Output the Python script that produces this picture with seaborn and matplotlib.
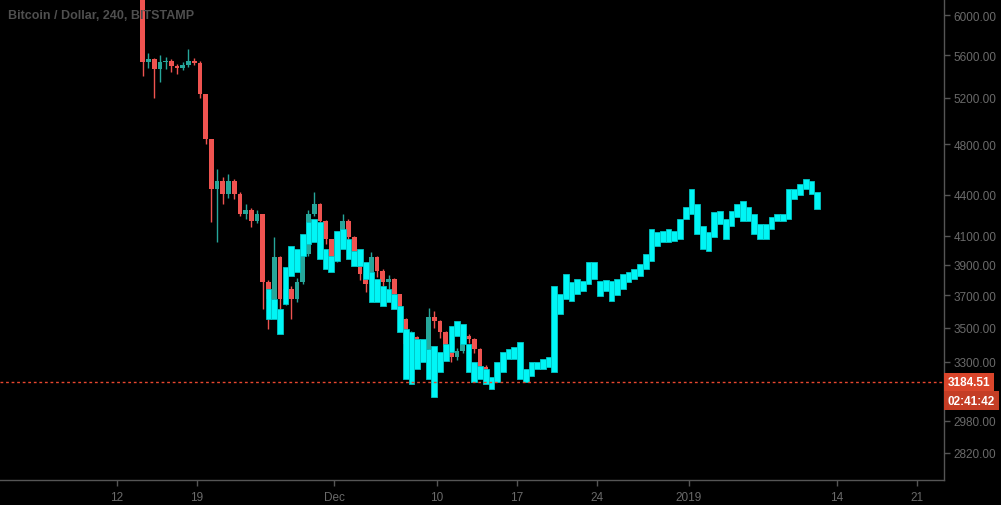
import matplotlib
matplotlib.use("Agg")
import matplotlib.pyplot as plt
import matplotlib.transforms as mtransforms
import numpy as np
import seaborn as sns

# ---- data ----
# x values are days counted from Nov 12 2018
candle_start = 2.25
candle_step = 0.5
first_open = 6300
candle_close = [5533, 5561, 5467, 5533, 5543, 5495, 5477, 5504, 5543, 5524,
                5236, 4845, 4445, 4507, 4407, 4507, 4407, 4260, 4290, 4207,
                4258, 3787, 3677, 3953, 3677, 3741, 3677, 3787, 3974, 4258,
                4331, 4207, 4077, 3926, 4106, 4207, 4092, 3953, 3839, 3773,
                3953, 3859, 3787, 3806, 3709, 3553, 3403, 3444, 3385, 3373,
                3565, 3540, 3473, 3385, 3327, 3362, 3450, 3432, 3373, 3270,
                3215]
candle_high = [6300, 5620, 5570, 5600, 5580, 5560, 5510, 5530, 5660, 5570,
               5540, 5240, 4845, 4600, 4540, 4560, 4520, 4420, 4330, 4300,
               4290, 4258, 3800, 4092, 3960, 3800, 3760, 3810, 4010, 4290,
               4420, 4340, 4210, 4080, 4130, 4260, 4220, 4100, 3960, 3850,
               3990, 3960, 3870, 3830, 3810, 3710, 3560, 3480, 3450, 3400,
               3620, 3600, 3545, 3480, 3390, 3380, 3470, 3460, 3440, 3380,
               3280]
candle_low = [5401, 5480, 5200, 5350, 5470, 5440, 5420, 5460, 5490, 5500,
              5200, 4800, 4200, 4057, 4330, 4380, 4370, 4240, 4220, 4160,
              4190, 3614, 3492, 3650, 3553, 3640, 3553, 3660, 3770, 3960,
              4240, 4180, 4040, 3890, 3920, 4090, 4060, 3920, 3800, 3720,
              3760, 3820, 3750, 3740, 3680, 3520, 3280, 3380, 3350, 3320,
              3360, 3500, 3440, 3360, 3300, 3310, 3350, 3410, 3350, 3250,
              3190]

cyan_start = 13.25
cyan_step = 0.5
cyan_high = [3741, 3677, 3614, 3886, 4029, 4008, 4113, 4199, 4221, 4199,
             4008, 3960, 4134, 4148, 4077, 3994, 4008, 3919, 3852, 3806,
             3761, 3741, 3709, 3633, 3492, 3473, 3432, 3432, 3373, 3391,
             3356, 3403, 3510, 3540, 3522, 3403, 3299, 3276, 3259, 3215,
             3299, 3356, 3373, 3385, 3415, 3259, 3299, 3299, 3316, 3327,
             3761, 3709, 3839, 3787, 3806, 3793, 3919, 3919, 3793, 3799,
             3793, 3806, 3839, 3852, 3872, 3906, 3974, 4148, 4128, 4134,
             4148, 4134, 4221, 4309, 4445, 4331, 4170, 4128, 4272, 4280,
             4221, 4280, 4331, 4354, 4309, 4258, 4185, 4185, 4236, 4258,
             4258, 4445, 4445, 4483, 4522, 4507, 4422]
cyan_low = [3553, 3553, 3462, 3646, 3825, 3852, 3960, 4043, 4057, 3940,
            3872, 3852, 3926, 4008, 3940, 3892, 3892, 3806, 3658, 3658,
            3633, 3658, 3614, 3473, 3204, 3176, 3259, 3299, 3204, 3106,
            3242, 3304, 3356, 3450, 3403, 3242, 3187, 3204, 3176, 3149,
            3187, 3242, 3316, 3316, 3204, 3187, 3220, 3259, 3259, 3270,
            3242, 3583, 3677, 3665, 3709, 3728, 3773, 3806, 3696, 3728,
            3665, 3702, 3741, 3787, 3806, 3825, 3872, 3926, 4029, 4057,
            4057, 4064, 4077, 4221, 4258, 4113, 4008, 3994, 4092, 4185,
            4077, 4170, 4236, 4207, 4207, 4113, 4077, 4077, 4148, 4207,
            4207, 4221, 4369, 4399, 4445, 4407, 4294]

last_price = 3184.51
countdown = "02:41:42"
countdown_level = 3085
title = "Bitcoin / Dollar, 240, BITSTAMP"

x_tick_days = [0, 7, 19, 28, 35, 42, 50, 63, 70]
x_tick_labels = ["12", "19", "Dec", "10", "17", "24", "2019", "14", "21"]
y_ticks = [2820, 2980, 3300, 3500, 3700, 3900, 4100, 4400, 4800, 5200, 5600, 6000]

# ---- style ----
sns.set_theme(style="dark", rc={
    "axes.facecolor": "black",
    "figure.facecolor": "black",
    "axes.edgecolor": "#555555",
    "xtick.color": "#555555",
    "ytick.color": "#555555",
    "axes.grid": False,
})
plt.rcParams["font.family"] = ["Liberation Sans", "DejaVu Sans"]

RED = "#ef5350"
GREEN = "#26a69a"
CYAN = "#00f6f6"
GRAY = "#6a6a6a"

fig = plt.figure(figsize=(10.01, 5.06), dpi=100)
ax = fig.add_axes([0, 25 / 506, 944 / 1001, 481 / 506])
ax.set_facecolor("black")
ax.set_yscale("log")

# candles
n = len(candle_close)
c_days = candle_start + candle_step * np.arange(n)
closes = np.array(candle_close, dtype=float)
opens = np.concatenate([[first_open], closes[:-1]])
colors = [GREEN if c >= o else RED for o, c in zip(opens, closes)]
ax.vlines(c_days, candle_low, candle_high, colors=colors, linewidth=1, zorder=2)
ax.bar(c_days, np.abs(closes - opens), bottom=np.minimum(opens, closes),
       width=0.42, color=colors, linewidth=0, zorder=2)

# cyan overlay
m = len(cyan_high)
cy_days = cyan_start + cyan_step * np.arange(m)
cy_hi = np.array(cyan_high, dtype=float)
cy_lo = np.array(cyan_low, dtype=float)
ax.bar(cy_days, cy_hi - cy_lo, bottom=cy_lo, width=0.5, color=CYAN,
       edgecolor="#00c4c4", linewidth=0.6, zorder=3)

# last price line
ax.axhline(last_price, color="#e8472f", linewidth=1, linestyle=(0, (2, 2)), zorder=4)

# axes
ax.set_xlim(-10.24, 72.35)
ax.set_ylim(2691, 6168)
ax.yaxis.tick_right()
ax.set_yticks(y_ticks)
ax.set_yticklabels([f"{v:.2f}" for v in y_ticks])
ax.yaxis.set_minor_locator(matplotlib.ticker.NullLocator())
ax.set_xticks(x_tick_days)
ax.set_xticklabels(x_tick_labels)
ax.tick_params(axis="y", which="major", direction="out", length=4, width=1,
               color="#555555", labelcolor=GRAY, labelsize=8.5, pad=3, right=True, left=False)
ax.tick_params(axis="x", which="major", direction="out", length=4, width=1,
               color="#555555", labelcolor=GRAY, labelsize=8.5, pad=4, bottom=True)
for side in ["left", "top"]:
    ax.spines[side].set_visible(False)
for side in ["right", "bottom"]:
    ax.spines[side].set_color("#555555")
    ax.spines[side].set_linewidth(1)

# price labels on the axis
trans = mtransforms.blended_transform_factory(ax.transAxes, ax.transData)
ax.text(1.004, last_price, f"{last_price:.2f}", transform=trans, ha="left", va="center",
        color="white", fontsize=8.5, fontweight="bold", zorder=6, clip_on=False,
        bbox=dict(boxstyle="square,pad=0.3", facecolor="#d9452b", edgecolor="none"))
ax.text(1.004, countdown_level, countdown, transform=trans, ha="left", va="center",
        color="white", fontsize=8.5, fontweight="bold", zorder=6, clip_on=False,
        bbox=dict(boxstyle="square,pad=0.3", facecolor="#c43d25", edgecolor="none"))

# title
fig.text(8 / 1001, 1 - 16 / 506, title, ha="left", va="center",
         color="#4f4f4f", fontsize=9, fontweight="bold")

fig.savefig("out.png", dpi=100, facecolor="black")
